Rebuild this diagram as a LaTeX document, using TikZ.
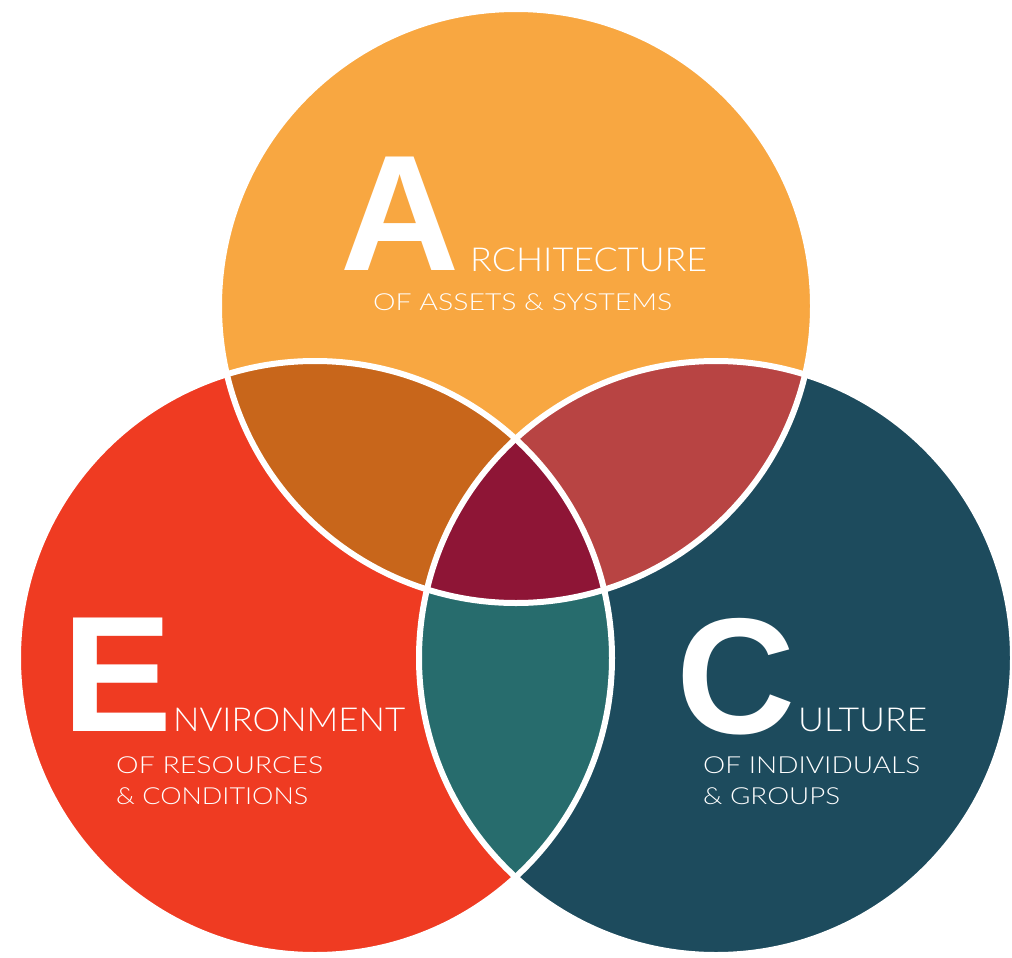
\documentclass[tikz,border=0pt]{standalone}
\usepackage{fontspec}
\usepackage{graphicx}
\setmainfont{Liberation Sans}
\newfontfamily\thinfont{Lato}[UprightFont={* Light}]
\definecolor{cTop}{HTML}{F8A741}
\definecolor{cLeft}{HTML}{EF3B22}
\definecolor{cRight}{HTML}{1D4B5D}
\definecolor{cTL}{HTML}{C8661B}
\definecolor{cTR}{HTML}{B84443}
\definecolor{cLR}{HTML}{276C6D}
\definecolor{cMid}{HTML}{8E1536}
\newcommand{\fitw}[2]{\resizebox{#1pt}{\height}{#2}}
\tikzset{
  big/.style={text=white, inner sep=0pt, anchor=base west, font=\fontsize{165}{165}\selectfont\bfseries},
  sub/.style={text=white, inner sep=0pt, anchor=base west, font=\thinfont\fontsize{33}{33}\selectfont},
  small/.style={text=white, inner sep=0pt, anchor=base west, font=\thinfont\fontsize{23.5}{23.5}\selectfont},
  sep/.style={draw=white, line width=6pt}
}
\begin{document}
\begin{tikzpicture}[x=1pt,y=-1pt]
\useasboundingbox[fill=white] (0,0) rectangle (1012,958);
\def\R{297}
\coordinate (T) at (516,306);
\coordinate (L) at (315,658);
\coordinate (Rc) at (716,658);
\fill[cTop] (T) circle (\R);
\fill[cLeft] (L) circle (\R);
\fill[cRight] (Rc) circle (\R);
\begin{scope}
  \clip (T) circle (\R);
  \fill[cTL] (L) circle (\R);
  \fill[cTR] (Rc) circle (\R);
\end{scope}
\begin{scope}
  \clip (L) circle (\R);
  \fill[cLR] (Rc) circle (\R);
  \clip (Rc) circle (\R);
  \fill[cMid] (T) circle (\R);
\end{scope}
\draw[sep] (T) circle (\R);
\draw[sep] (L) circle (\R);
\draw[sep] (Rc) circle (\R);
% texts
\node[big] (bA) at (340,270) {A};
\node[sub] (tA) at (470,271) {\fitw{237}{RCHITECTURE}};
\node[small] (sA) at (373,310) {\fitw{299}{OF ASSETS \& SYSTEMS}};
\node[big] (bE) at (62,731) {E};
\node[sub] (tE) at (173,731) {\fitw{232}{NVIRONMENT}};
\node[small] (sE1) at (116,773) {\fitw{207}{OF RESOURCES}};
\node[small] (sE2) at (116,804) {\fitw{192}{\& CONDITIONS}};
\node[big] (bC) at (676,733) {C};
\node[sub] (tC) at (798,731) {\fitw{129}{ULTURE}};
\node[small] (sC1) at (703,773) {\fitw{217}{OF INDIVIDUALS}};
\node[small] (sC2) at (703,804) {\fitw{137}{\& GROUPS}};
\end{tikzpicture}
\end{document}
